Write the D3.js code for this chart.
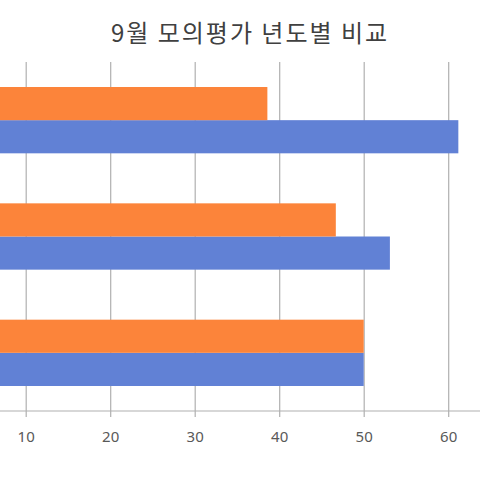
<!DOCTYPE html>
<html>
<head>
<meta charset="utf-8">
<script src="https://cdn.jsdelivr.net/npm/d3@7"></script>
<style>
  body { margin: 0; background: #fff; }
  svg { display: block; }
</style>
</head>
<body>
<svg width="480" height="490"></svg>
<script>
const svg = d3.select('svg');
const width = +svg.attr('width');

// data (the left part with category names is cut off)
const categories = ['국어', '수학', '영어'];
const seriesNames = ['2022', '2023'];
const blueValues = [50, 53.1, 61.2];
const orangeValues = [50, 46.7, 38.6];
const xTicks = [0, 10, 20, 30, 40, 50, 60, 70];
const titleText = '9월 모의평가 년도별 비교';

const colors = ['#6181d5', '#fc843a'];

// plot area runs past both edges of the window
const x = d3.scaleLinear()
  .domain([0, 70])
  .range([-58.8, 532.7]);

// first category at the bottom, like a spreadsheet bar chart
const y = d3.scaleBand()
  .domain(categories.slice().reverse())
  .range([62, 411])
  .paddingInner(0.43)
  .paddingOuter(0.215);

const ySeries = d3.scaleBand()
  .domain([seriesNames[1], seriesNames[0]])
  .range([0, y.bandwidth()]);

const rows = categories.map((c, i) => ({
  category: c,
  values: [
    { series: seriesNames[0], value: blueValues[i], color: colors[0] },
    { series: seriesNames[1], value: orangeValues[i], color: colors[1] }
  ]
}));

// gridlines + tick marks
svg.append('g')
  .selectAll('line')
  .data(xTicks)
  .enter()
    .append('line')
    .attr('x1', d => x(d) + 0.5)
    .attr('x2', d => x(d) + 0.5)
    .attr('y1', 62)
    .attr('y2', 417)
    .attr('stroke', '#b0b0b0')
    .attr('stroke-width', 1.2);

// bars
const groups = svg.append('g')
  .selectAll('g')
  .data(rows)
  .enter()
    .append('g')
    .attr('transform', d => `translate(0,${y(d.category)})`);

groups.selectAll('rect')
  .data(d => d.values)
  .enter()
    .append('rect')
    .attr('x', x(0))
    .attr('y', d => ySeries(d.series))
    .attr('width', d => x(d.value) - x(0))
    .attr('height', ySeries.bandwidth())
    .attr('fill', d => d.color);

// axis baseline
svg.append('line')
  .attr('x1', x(0))
  .attr('x2', x(70))
  .attr('y1', 411)
  .attr('y2', 411)
  .attr('stroke', '#b0b0b0')
  .attr('stroke-width', 1.2);

// tick labels, only the ones that land inside the window
svg.append('g')
  .selectAll('text')
  .data(xTicks.filter(d => x(d) > 10 && x(d) < width - 10))
  .enter()
    .append('text')
    .attr('x', d => x(d) + 0.5)
    .attr('y', 442)
    .attr('text-anchor', 'middle')
    .attr('font-family', '"Noto Sans", sans-serif')
    .attr('font-size', 15)
    .attr('fill', '#595959')
    .text(d => d);

svg.append('text')
  .attr('x', 250)
  .attr('y', 42)
  .attr('text-anchor', 'middle')
  .attr('font-family', '"Noto Sans CJK KR", sans-serif')
  .attr('font-size', 24)
  .attr('letter-spacing', 2)
  .attr('fill', '#404040')
  .text(titleText);
</script>
</body>
</html>
